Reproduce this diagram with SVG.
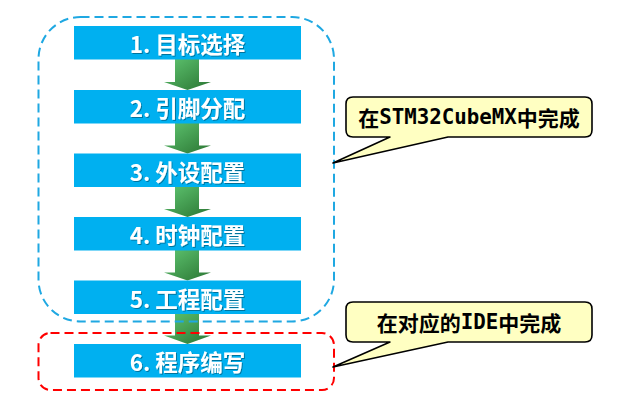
<svg xmlns="http://www.w3.org/2000/svg" width="628" height="402" viewBox="0 0 628 402">
<defs>
<linearGradient id="g" x1="0" y1="0" x2="1" y2="1">
<stop offset="0" stop-color="#5fc671"/>
<stop offset="1" stop-color="#2a7432"/>
</linearGradient>
<filter id="sh" x="-5%" y="-20%" width="110%" height="140%">
<feDropShadow dx="1" dy="1" stdDeviation="0.6" flood-color="#000" flood-opacity="0.35"/>
</filter>
</defs>
<style>
.box{fill:#00b0f0}
.lbl{font-family:"Noto Sans CJK SC","Noto Sans",sans-serif;font-weight:bold;font-size:22.5px;fill:#fff;text-anchor:middle;dominant-baseline:central}
.arr{fill:url(#g)}
.call{fill:#ffffc2;stroke:#000;stroke-width:1.6;stroke-linejoin:round}
.ct{font-family:"Noto Sans CJK SC",sans-serif;font-weight:bold;font-size:21px;fill:#000;text-anchor:middle;dominant-baseline:central}
.mono{font-family:"DejaVu Sans Mono","Liberation Mono",monospace;font-weight:bold;font-size:20.8px}
.grp{fill:none;stroke-width:2;stroke-dasharray:9 5}
</style>
<g id="connectors">
<path class="arr" d="M175,59 H199 V82 H211 L187.5,90 L164,82 H175 Z"/>
<path class="arr" d="M175,123 H199 V145.5 H211 L187.5,153.5 L164,145.5 H175 Z"/>
<path class="arr" d="M175,187 H199 V209 H211 L187.5,217 L164,209 H175 Z"/>
<path class="arr" d="M175,250 H199 V272.5 H211 L187.5,280.5 L164,272.5 H175 Z"/>
<path class="arr" d="M175,314 H199 V335.5 H211 L187.5,344 L164,335.5 H175 Z"/>
</g>
<g id="step1"><rect class="box" x="74" y="26" width="227" height="33.5"/><text class="lbl" x="187.5" y="43" filter="url(#sh)">1. 目标选择</text></g>
<g id="step2"><rect class="box" x="74" y="90" width="227" height="33.5"/><text class="lbl" x="187.5" y="107" filter="url(#sh)">2. 引脚分配</text></g>
<g id="step3"><rect class="box" x="74" y="153.5" width="227" height="33.5"/><text class="lbl" x="187.5" y="170.5" filter="url(#sh)">3. 外设配置</text></g>
<g id="step4"><rect class="box" x="74" y="217" width="227" height="33.5"/><text class="lbl" x="187.5" y="234" filter="url(#sh)">4. 时钟配置</text></g>
<g id="step5"><rect class="box" x="74" y="280.5" width="227" height="33.5"/><text class="lbl" x="187.5" y="297.5" filter="url(#sh)">5. 工程配置</text></g>
<g id="step6"><rect class="box" x="74" y="344" width="227" height="33.5"/><text class="lbl" x="187.5" y="361" filter="url(#sh)">6. 程序编写</text></g>
<g id="group-cubemx"><rect class="grp" x="38.5" y="17" width="295.5" height="304.5" rx="42" ry="42" stroke="#1fa8e2"/></g>
<g id="group-ide"><rect class="grp" x="38.5" y="333" width="295.5" height="57" rx="12" ry="12" stroke="#ff0000"/></g>
<g id="callout-cubemx">
<path class="call" d="M353,97 H585 Q592,97 592,104 V130 Q592,137 585,137 H448 L333,163 L390,137 H353 Q346,137 346,130 V104 Q346,97 353,97 Z"/>
<text class="ct" x="469" y="117">在<tspan class="mono">STM32CubeMX</tspan>中完成</text>
</g>
<g id="callout-ide">
<path class="call" d="M353,302 H585 Q592,302 592,309 V335 Q592,342 585,342 H448 L333,367 L390,342 H353 Q346,342 346,335 V309 Q346,302 353,302 Z"/>
<text class="ct" x="469" y="322">在对应的<tspan class="mono">IDE</tspan>中完成</text>
</g>
</svg>
